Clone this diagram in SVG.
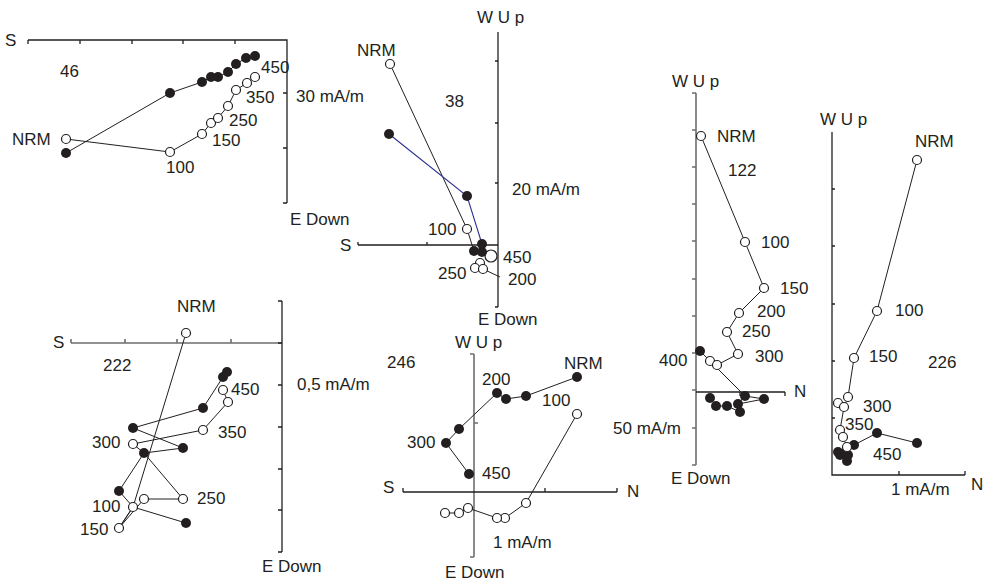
<svg xmlns="http://www.w3.org/2000/svg" width="985" height="583" viewBox="0 0 985 583">
<style>
text{font-family:"Liberation Sans",Arial,sans-serif;font-size:17px;fill:#231f20}
.ax{stroke:#231f20;stroke-width:1.3;fill:none}
.axg{stroke:#6d6e70;stroke-width:1.6;fill:none}
.ln{stroke:#231f20;stroke-width:1;fill:none}
.bl{stroke:#2e3192;stroke-width:1.1;fill:none}
.o{fill:#fff;stroke:#231f20;stroke-width:1.2}
.f{fill:#231f20;stroke:none}
</style>
<rect width="985" height="583" fill="#fff"/>

<g id="plot46">
<path class="ax" d="M28,40H287V203M28,40v4M80,40v4M132,40v4M183,40v4M235,40v4M287,93h-4M287,148h-4M287,203h-4"/>
<polyline class="ln" points="66,153 170,93 202,82 211,77 218,77 228,72 236,64 246,58 255,56"/>
<polyline class="ln" points="66,139 170,152 202,134 211,123 218,118 228,106 236,90 247,83 255,77"/>
<g class="f"><circle cx="66" cy="153" r="5"/><circle cx="170" cy="93" r="5"/><circle cx="202" cy="82" r="5"/><circle cx="211" cy="77" r="5"/><circle cx="218" cy="77" r="5"/><circle cx="228" cy="72" r="5"/><circle cx="236" cy="64" r="5"/><circle cx="246" cy="58" r="5"/><circle cx="255" cy="56" r="5"/></g>
<g class="o"><circle cx="66" cy="139" r="4.5"/><circle cx="170" cy="152" r="4.5"/><circle cx="202" cy="134" r="4.5"/><circle cx="211" cy="123" r="4.5"/><circle cx="218" cy="118" r="4.5"/><circle cx="228" cy="106" r="4.5"/><circle cx="236" cy="90" r="4.5"/><circle cx="247" cy="83" r="4.5"/><circle cx="255" cy="77" r="4.5"/></g>
<text x="5" y="46">S</text>
<text x="60" y="77">46</text>
<text x="12" y="145">NRM</text>
<text x="166" y="173">100</text>
<text x="212" y="146">150</text>
<text x="229" y="126">250</text>
<text x="246" y="103">350</text>
<text x="261" y="73">450</text>
<text x="296" y="102">30 mA/m</text>
<text x="290" y="225">E Down</text>
</g>

<g id="plot38">
<path class="ax" d="M498,32V307M498,61h-3M498,123h-3M498,183h-3M498,307h-3M358,245H498M358,245v-3M427,245v-3"/>
<polyline class="ln" points="390,64 467,229 474,251"/>
<polyline class="bl" points="389,134 467,196 482,244"/>
<line class="ln" x1="483" y1="269" x2="500" y2="277"/>
<g class="o"><circle cx="491" cy="256" r="6"/><circle cx="480" cy="263" r="4.5"/><circle cx="475" cy="268" r="4.5"/><circle cx="483" cy="269" r="4.5"/><circle cx="390" cy="64" r="4.5"/><circle cx="467" cy="229" r="4.5"/></g>
<g class="f"><circle cx="389" cy="134" r="5"/><circle cx="467" cy="196" r="5"/><circle cx="474" cy="251" r="5"/><circle cx="482" cy="252" r="5"/><circle cx="482" cy="244" r="5"/></g>
<text x="477" y="23">W U p</text>
<text x="357" y="56">NRM</text>
<text x="445" y="107">38</text>
<text x="512" y="195">20 mA/m</text>
<text x="340" y="251">S</text>
<text x="428" y="235">100</text>
<text x="503" y="263">450</text>
<text x="438" y="279">250</text>
<text x="508" y="285">200</text>
<text x="478" y="325">E Down</text>
</g>

<g id="plot122">
<path class="axg" d="M696,93V465M696,93h-4M696,130h-4M696,167h-4M696,204h-4M696,241h-4M696,279h-4M696,316h-4M696,353h-4M696,390h-4M696,428h-4M696,465h-4"/>
<path class="ax" d="M696,392H785M740,392v4M785,392v4"/>
<polyline class="ln" points="701,136 745,242 764,288 739,313 727,332 738,354 717,365 710,361"/>
<polyline class="ln" points="700,351 745,396 764,399 738,404 740,412 727,406 716,406 710,398"/>
<line class="ln" x1="745" y1="396" x2="738" y2="404"/>
<g class="o"><circle cx="701" cy="136" r="4.5"/><circle cx="745" cy="242" r="4.5"/><circle cx="764" cy="288" r="4.5"/><circle cx="739" cy="313" r="4.5"/><circle cx="727" cy="332" r="4.5"/><circle cx="738" cy="354" r="4.5"/><circle cx="710" cy="361" r="4.5"/><circle cx="717" cy="365" r="4.5"/></g>
<g class="f"><circle cx="700" cy="351" r="5"/><circle cx="745" cy="396" r="5"/><circle cx="764" cy="399" r="5"/><circle cx="738" cy="404" r="5"/><circle cx="740" cy="412" r="5"/><circle cx="727" cy="406" r="5"/><circle cx="716" cy="406" r="5"/><circle cx="710" cy="398" r="5"/></g>
<text x="672" y="87">W U p</text>
<text x="717" y="142">NRM</text>
<text x="728" y="176">122</text>
<text x="761" y="248">100</text>
<text x="780" y="294">150</text>
<text x="757" y="317">200</text>
<text x="742" y="337">250</text>
<text x="755" y="362">300</text>
<text x="659" y="366">400</text>
<text x="794" y="397">N</text>
<text x="613" y="434">50 mA/m</text>
<text x="671" y="484">E Down</text>
</g>

<g id="plot226">
<path class="ax" d="M832,132V475H965M832,189h3M832,246h3M832,304h3M832,361h3M832,418h3M899,475v-4M965,475v-4"/>
<polyline class="ln" points="917,160 877,311 854,358 848,397 844,407 840,430 843,437 847,447"/>
<line class="ln" x1="838" y1="403" x2="844" y2="407"/>
<polyline class="ln" points="917,443 877,433 854,445 845,453"/>
<g class="f"><circle cx="917" cy="443" r="5"/><circle cx="877" cy="433" r="5"/><circle cx="854" cy="445" r="5"/><circle cx="838" cy="452" r="5"/><circle cx="840" cy="455" r="5"/><circle cx="845" cy="453" r="5"/><circle cx="848" cy="455" r="5"/><circle cx="847" cy="461" r="5"/></g>
<g class="o"><circle cx="917" cy="160" r="4.5"/><circle cx="877" cy="311" r="4.5"/><circle cx="854" cy="358" r="4.5"/><circle cx="848" cy="397" r="4.5"/><circle cx="838" cy="403" r="4.5"/><circle cx="844" cy="407" r="4.5"/><circle cx="840" cy="430" r="4.5"/><circle cx="843" cy="437" r="4.5"/><circle cx="847" cy="447" r="4.5"/></g>
<text x="820" y="125">W U p</text>
<text x="915" y="147">NRM</text>
<text x="895" y="316">100</text>
<text x="869" y="362">150</text>
<text x="928" y="368">226</text>
<text x="863" y="412">300</text>
<text x="845" y="430">350</text>
<text x="873" y="460">450</text>
<text x="971" y="490">N</text>
<text x="891" y="495">1 mA/m</text>
</g>

<g id="plot222">
<path class="axg" d="M71,343H282M71,343v-4M125,343v-4M177,343v-4M231,343v-4"/>
<path class="ax" d="M282,301V552M282,301h-4M282,343h-4M282,385h-4M282,427h-4M282,469h-4M282,510h-4M282,552h-4"/>
<polyline class="ln" points="186,333 133,507 119,528 144,499 183,499 144,453 133,444 203,430 228,402 223,390"/>
<polyline class="ln" points="186,523 133,507 119,491 144,453 183,448 133,428 203,408 223,377 227,372"/>
<line class="ln" x1="119" y1="528" x2="133" y2="507"/>
<g class="f"><circle cx="227" cy="372" r="5"/><circle cx="223" cy="377" r="5"/><circle cx="203" cy="408" r="5"/><circle cx="133" cy="428" r="5"/><circle cx="183" cy="448" r="5"/><circle cx="144" cy="453" r="5"/><circle cx="119" cy="491" r="5"/><circle cx="186" cy="523" r="5"/></g>
<g class="o"><circle cx="186" cy="333" r="4.5"/><circle cx="223" cy="390" r="4.5"/><circle cx="228" cy="402" r="4.5"/><circle cx="203" cy="430" r="4.5"/><circle cx="133" cy="444" r="4.5"/><circle cx="144" cy="499" r="4.5"/><circle cx="183" cy="499" r="4.5"/><circle cx="133" cy="507" r="4.5"/><circle cx="119" cy="528" r="4.5"/></g>
<text x="53" y="348">S</text>
<text x="177" y="312">NRM</text>
<text x="103" y="371">222</text>
<text x="297" y="390">0,5 mA/m</text>
<text x="231" y="395">450</text>
<text x="218" y="438">350</text>
<text x="92" y="448">300</text>
<text x="197" y="504">250</text>
<text x="92" y="512">100</text>
<text x="80" y="535">150</text>
<text x="262" y="572">E Down</text>
</g>

<g id="plot246">
<path class="axg" d="M474,354V557M474,354h-4M474,423h4M474,557h-4"/>
<path class="ax" d="M403,492H617M403,492v-4M545,492v-4M617,492v-4"/>
<polyline class="ln" points="577,377 526,396 506,399 497,393 459,429 446,443 469,474"/>
<polyline class="ln" points="577,414 526,503 505,518 497,518 468,508 459,513 445,513"/>
<g class="f"><circle cx="577" cy="377" r="5"/><circle cx="526" cy="396" r="5"/><circle cx="506" cy="399" r="5"/><circle cx="497" cy="393" r="5"/><circle cx="459" cy="429" r="5"/><circle cx="446" cy="443" r="5"/><circle cx="469" cy="474" r="5"/></g>
<g class="o"><circle cx="577" cy="414" r="4.5"/><circle cx="526" cy="503" r="4.5"/><circle cx="505" cy="518" r="4.5"/><circle cx="497" cy="518" r="4.5"/><circle cx="468" cy="508" r="4.5"/><circle cx="459" cy="513" r="4.5"/><circle cx="445" cy="513" r="4.5"/></g>
<text x="455" y="348">W U p</text>
<text x="387" y="368">246</text>
<text x="482" y="385">200</text>
<text x="564" y="369">NRM</text>
<text x="542" y="406">100</text>
<text x="407" y="448">300</text>
<text x="482" y="479">450</text>
<text x="383" y="493">S</text>
<text x="627" y="497">N</text>
<text x="493" y="548">1 mA/m</text>
<text x="445" y="578">E Down</text>
</g>
</svg>
